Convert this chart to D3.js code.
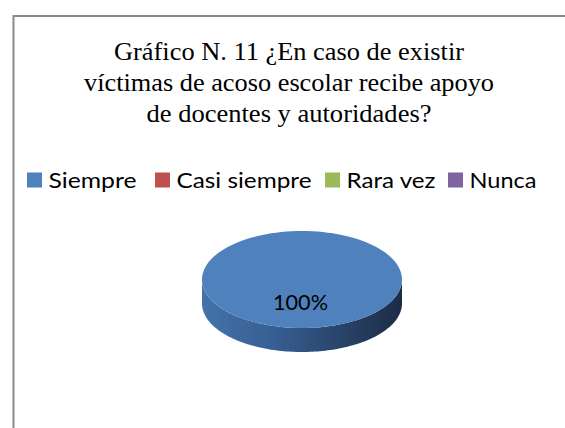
<!DOCTYPE html>
<html><head><meta charset="utf-8">
<script src="https://cdn.jsdelivr.net/npm/d3@7"></script>
<style>html,body{margin:0;padding:0;background:#fff;}svg{display:block;}</style>
</head><body>
<script>
const categories = ["Siempre", "Casi siempre", "Rara vez", "Nunca"];
const values = [100, 0, 0, 0];
const colors = ["#4F81BD", "#C0504D", "#9BBB59", "#8064A2"];
const titleLines = ["Gráfico N. 11 ¿En caso de existir", "víctimas de acoso escolar recibe apoyo", "de docentes y autoridades?"];
const labelFormat = v => Math.round(v) + "%";

const W = 565, H = 428;
const svg = d3.select("body").append("svg").attr("width", W).attr("height", H);

// frame
svg.append("rect").attr("x", 13.5).attr("y", 16).attr("width", W + 10).attr("height", H + 10)
  .attr("fill", "#fff").attr("stroke", "#8a8a8a").attr("stroke-width", 2);

// title
const titleW = [350, 410, 285];
const title = svg.append("g").attr("font-family", "'Liberation Serif','Times New Roman',serif")
  .attr("font-size", 26).attr("fill", "#000");
titleLines.forEach((t, i) => title.append("text").attr("text-anchor", "middle")
  .attr("x", 289).attr("y", 60 + i * 31)
  .attr("textLength", titleW[i]).attr("lengthAdjust", "spacingAndGlyphs").text(t));

// legend
const legendX = [27, 155, 325, 448];
const legendTextW = [88, 135, 89, 67];
const lg = svg.append("g");
categories.forEach((c, i) => {
  lg.append("rect").attr("x", legendX[i]).attr("y", 172.5).attr("width", 15).attr("height", 15).attr("fill", colors[i]);
  lg.append("text").attr("x", legendX[i] + 21.5).attr("y", 188).attr("font-family", "Lato,'Open Sans',sans-serif")
    .attr("font-size", 22).attr("fill", "#000")
    .attr("textLength", legendTextW[i]).attr("lengthAdjust", "spacingAndGlyphs").text(c);
});

// 3D pie
const cx = 302, cy = 279.5, rx = 100, ry = 48.5, depth = 24;
const pie = d3.pie().sort(null).value(d => d)(values);
const color = d3.scaleOrdinal().domain(categories).range(colors);
const px = a => cx + rx * Math.sin(a);
const py = a => cy - ry * Math.cos(a);

const defs = svg.append("defs");
const grad = defs.append("linearGradient").attr("id", "side").attr("gradientUnits", "userSpaceOnUse")
  .attr("x1", cx - rx).attr("x2", cx + rx).attr("y1", 0).attr("y2", 0);
[[0, "#4472ab"], [0.35, "#375f93"], [0.75, "#263f63"], [1, "#1c2c46"]].forEach(s =>
  grad.append("stop").attr("offset", s[0]).attr("stop-color", s[1]));

const g = svg.append("g");
const N = 120;
pie.filter(d => d.value > 0).forEach(d => {
  const a0 = Math.max(d.startAngle, Math.PI / 2), a1 = Math.min(d.endAngle, 3 * Math.PI / 2);
  if (a1 > a0) {
    const pts = d3.range(N + 1).map(k => a0 + (a1 - a0) * k / N);
    let p = "M" + pts.map(a => [px(a), py(a)].join(",")).join("L");
    p += "L" + pts.slice().reverse().map(a => [px(a), py(a) + depth].join(",")).join("L") + "Z";
    g.append("path").attr("d", p).attr("fill", d.index === 0 ? "url(#side)" : d3.color(colors[d.index]).darker(1));
  }
});
const total = d3.sum(values);
pie.filter(d => d.value > 0).forEach(d => {
  const pts = d3.range(N + 1).map(k => d.startAngle + (d.endAngle - d.startAngle) * k / N);
  const full = d.endAngle - d.startAngle >= 2 * Math.PI - 1e-6;
  const p = full ? "M" + pts.map(a => [px(a), py(a)].join(",")).join("L") + "Z"
                 : "M" + cx + "," + cy + "L" + pts.map(a => [px(a), py(a)].join(",")).join("L") + "Z";
  g.append("path").attr("d", p).attr("fill", color(categories[d.index]));
  const mid = (d.startAngle + d.endAngle) / 2;
  const lx = full ? cx : cx + rx * 0.6 * Math.sin(mid), ly = full ? cy : cy - ry * 0.6 * Math.cos(mid);
  g.append("text").attr("x", lx - 1.5).attr("y", ly + 30.5).attr("text-anchor", "middle")
    .attr("font-family", "Lato,'Open Sans',sans-serif").attr("font-size", 21).attr("fill", "#000")
    .attr("textLength", 55).attr("lengthAdjust", "spacingAndGlyphs")
    .text(labelFormat(d.value / total * 100));
});
</script>
</body></html>
